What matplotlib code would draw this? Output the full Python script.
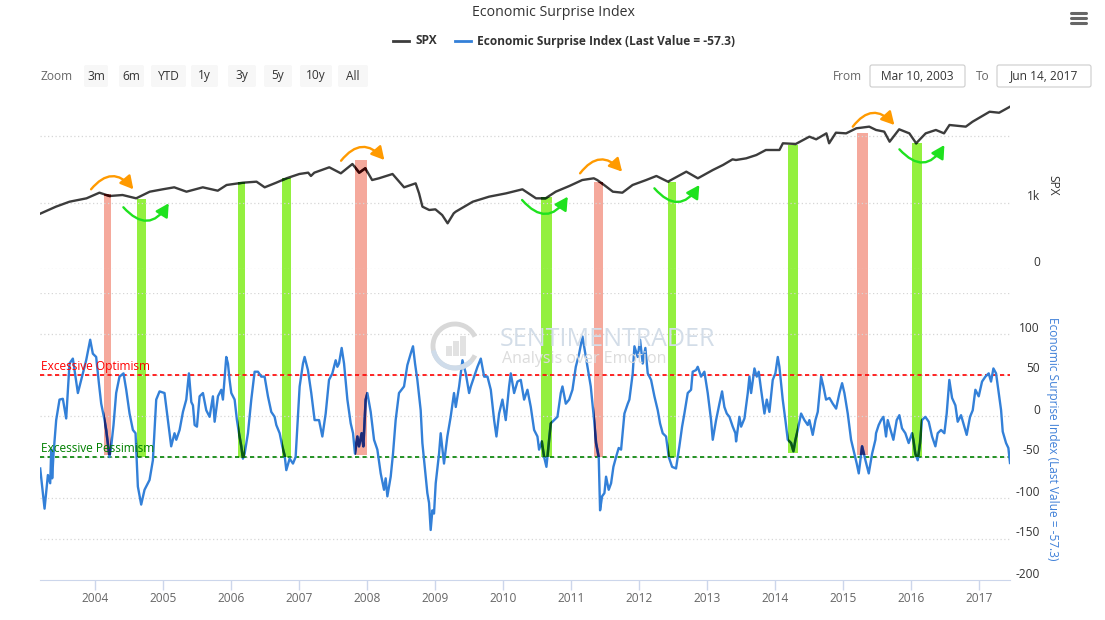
import numpy as np
import matplotlib.pyplot as plt
import matplotlib.transforms as mtransforms
from matplotlib.patches import Rectangle, FancyBboxPatch, Arc

plt.rcParams['font.family'] = ['Open Sans', 'DejaVu Sans']

# ---------------- data (decimal years) ----------------
spx_years = [2003.19, 2003.42, 2003.62, 2003.87, 2004.06, 2004.21, 2004.40, 2004.60, 2004.80, 2004.99,
             2005.16, 2005.34, 2005.58, 2005.80, 2005.93, 2006.17, 2006.37, 2006.49, 2006.66, 2006.81,
             2007.00, 2007.13, 2007.17, 2007.22, 2007.44, 2007.61, 2007.78, 2007.88, 2007.97, 2008.07,
             2008.17, 2008.37, 2008.54, 2008.71, 2008.76, 2008.81, 2008.91, 2009.00, 2009.10, 2009.18,
             2009.27, 2009.30, 2009.55, 2009.79, 2010.04, 2010.28, 2010.48, 2010.62, 2010.77, 2010.97,
             2011.16, 2011.33, 2011.38, 2011.45, 2011.61, 2011.75, 2011.90, 2012.10, 2012.25, 2012.42,
             2012.69, 2012.86, 2013.08, 2013.23, 2013.37, 2013.42, 2013.57, 2013.72, 2013.86, 2014.06,
             2014.11, 2014.30, 2014.50, 2014.60, 2014.75, 2014.79, 2014.89, 2015.04, 2015.19, 2015.38,
             2015.48, 2015.60, 2015.68, 2015.82, 2015.97, 2016.07, 2016.21, 2016.36, 2016.48, 2016.56,
             2016.80, 2016.90, 2017.15, 2017.29, 2017.45]
spx_values = [835, 940, 1015, 1066, 1151, 1101, 1116, 1066, 1166, 1202,
              1232, 1166, 1232, 1181, 1267, 1302, 1317, 1232, 1302, 1368,
              1433, 1453, 1403, 1453, 1534, 1443, 1584, 1453, 1519, 1342,
              1368, 1433, 1232, 1292, 1141, 940, 890, 900, 814, 689,
              840, 865, 1015, 1091, 1141, 1202, 1066, 1066, 1166, 1252,
              1342, 1368, 1342, 1292, 1166, 1151, 1267, 1342, 1403, 1317,
              1468, 1368, 1493, 1569, 1654, 1644, 1669, 1719, 1795, 1795,
              1896, 1886, 1996, 1956, 2046, 1896, 2056, 2046, 2122, 2147,
              2097, 2072, 1920, 2107, 2046, 1896, 2046, 2097, 2046, 2172,
              2147, 2222, 2372, 2357, 2448]

esi_years = [2003.189, 2003.253, 2003.302, 2003.336, 2003.351, 2003.365, 2003.385, 2003.424, 2003.473, 2003.522,
             2003.571, 2003.620, 2003.669, 2003.743, 2003.816, 2003.865, 2003.924, 2003.963, 2004.012, 2004.052,
             2004.086, 2004.135, 2004.159, 2004.208, 2004.233, 2004.267, 2004.306, 2004.355, 2004.414, 2004.454,
             2004.503, 2004.552, 2004.591, 2004.625, 2004.674, 2004.723, 2004.797, 2004.846, 2004.895, 2004.944,
             2005.017, 2005.091, 2005.115, 2005.164, 2005.190, 2005.239, 2005.288, 2005.337, 2005.376, 2005.411,
             2005.435, 2005.460, 2005.494, 2005.533, 2005.582, 2005.631, 2005.680, 2005.729, 2005.754, 2005.803,
             2005.852, 2005.876, 2005.925, 2005.950, 2005.974, 2005.999, 2006.048, 2006.082, 2006.112, 2006.146,
             2006.170, 2006.195, 2006.244, 2006.293, 2006.342, 2006.391, 2006.440, 2006.489, 2006.538, 2006.587,
             2006.636, 2006.661, 2006.710, 2006.749, 2006.783, 2006.808, 2006.857, 2006.906, 2006.945, 2006.965,
             2007.004, 2007.053, 2007.077, 2007.126, 2007.175, 2007.224, 2007.289, 2007.338, 2007.387, 2007.436,
             2007.485, 2007.534, 2007.559, 2007.583, 2007.622, 2007.657, 2007.706, 2007.755, 2007.789, 2007.818,
             2007.853, 2007.877, 2007.916, 2007.941, 2007.975, 2008.000, 2008.049, 2008.098, 2008.147, 2008.196,
             2008.245, 2008.269, 2008.294, 2008.343, 2008.377, 2008.416, 2008.465, 2008.539, 2008.588, 2008.637,
             2008.671, 2008.701, 2008.735, 2008.784, 2008.809, 2008.858, 2008.882, 2008.907, 2008.931, 2008.956,
             2008.980, 2009.005, 2009.054, 2009.078, 2009.127, 2009.176, 2009.225, 2009.274, 2009.300, 2009.349,
             2009.398, 2009.447, 2009.496, 2009.521, 2009.570, 2009.619, 2009.668, 2009.717, 2009.766, 2009.815,
             2009.864, 2009.898, 2009.937, 2009.986, 2010.035, 2010.084, 2010.109, 2010.158, 2010.207, 2010.256,
             2010.305, 2010.354, 2010.403, 2010.452, 2010.501, 2010.525, 2010.565, 2010.599, 2010.633, 2010.663,
             2010.697, 2010.746, 2010.795, 2010.844, 2010.869, 2010.918, 2010.967, 2011.016, 2011.065, 2011.114,
             2011.163, 2011.187, 2011.236, 2011.285, 2011.334, 2011.363, 2011.402, 2011.422, 2011.451, 2011.486,
             2011.510, 2011.549, 2011.584, 2011.618, 2011.657, 2011.696, 2011.731, 2011.780, 2011.829, 2011.853,
             2011.902, 2011.927, 2011.976, 2012.010, 2012.049, 2012.088, 2012.123, 2012.172, 2012.221, 2012.270,
             2012.304, 2012.343, 2012.392, 2012.432, 2012.481, 2012.539, 2012.588, 2012.628, 2012.662, 2012.711,
             2012.760, 2012.784, 2012.833, 2012.858, 2012.907, 2012.956, 2013.005, 2013.054, 2013.079, 2013.128,
             2013.177, 2013.216, 2013.250, 2013.285, 2013.324, 2013.373, 2013.412, 2013.422, 2013.471, 2013.496,
             2013.545, 2013.594, 2013.618, 2013.643, 2013.692, 2013.726, 2013.755, 2013.790, 2013.839, 2013.873,
             2013.912, 2013.961, 2014.000, 2014.035, 2014.059, 2014.108, 2014.147, 2014.182, 2014.231, 2014.265,
             2014.295, 2014.329, 2014.378, 2014.427, 2014.476, 2014.500, 2014.549, 2014.589, 2014.623, 2014.672,
             2014.706, 2014.745, 2014.795, 2014.844, 2014.893, 2014.942, 2014.981, 2015.015, 2015.064, 2015.113,
             2015.147, 2015.196, 2015.226, 2015.275, 2015.324, 2015.373, 2015.422, 2015.471, 2015.480, 2015.519,
             2015.554, 2015.588, 2015.627, 2015.652, 2015.686, 2015.735, 2015.784, 2015.823, 2015.862, 2015.911,
             2015.960, 2016.009, 2016.029, 2016.058, 2016.093, 2016.127, 2016.156, 2016.205, 2016.255, 2016.304,
             2016.353, 2016.387, 2016.436, 2016.485, 2016.519, 2016.558, 2016.598, 2016.647, 2016.681, 2016.730,
             2016.764, 2016.813, 2016.862, 2016.902, 2016.941, 2016.990, 2017.039, 2017.088, 2017.137, 2017.171,
             2017.206, 2017.245, 2017.284, 2017.319, 2017.343, 2017.392, 2017.426, 2017.450]
esi_values = [-64, -113, -72, -82, -41, -76, -46, -5, 20, 21,
              -3, 64, 70, 28, 52, 68, 93, 76, 72, 40,
              15, -5, -17, -50, -37, -11, 28, 48, 52, 32,
              3, -17, -21, -86, -108, -90, -78, -54, 20, 30,
              28, -21, -37, -21, -29, -17, 5, 20, 52, 17,
              13, -11, -13, 24, 28, 7, -1, 24, -7, 24,
              32, 20, 72, 64, 44, 28, 20, -5, -21, -37,
              -52, -46, -21, 20, 54, 54, 48, 48, 24, 5,
              -1, -11, -21, -37, -48, -66, -52, -58, -50, -21,
              36, 64, 72, 56, 28, -5, -5, -25, 3, 44,
              52, 68, 60, 64, 83, 64, 20, -9, -21, -46,
              -25, -37, -21, -37, 20, 28, 5, -29, -41, -70,
              -90, -76, -98, -74, -46, -5, 28, 36, 62, 76,
              85, 64, 44, 7, -33, -74, -94, -106, -139, -115,
              -119, -82, -46, -21, -58, -25, -1, 28, 11, 36,
              68, 52, 28, 36, 48, 60, 70, 48, 48, 32,
              -5, -25, 3, 20, -5, 36, 52, 28, 42, 44,
              20, 32, 11, -17, -25, -41, -31, -50, -62, -37,
              -9, -5, -1, 28, 36, 15, 20, 32, 60, 76,
              97, 85, 60, 36, -5, -33, -50, -115, -98, -94,
              -74, -90, -82, -62, -50, -39, -41, 3, 15, 20,
              52, 85, 72, 93, 64, 83, 52, 44, 24, 7,
              -9, -21, -25, -50, -62, -64, -37, -13, 3, 28,
              32, 54, 56, 60, 48, 54, 28, -5, -29, -5,
              15, 30, 11, 3, -1, -13, -21, -31, -1, -13,
              -3, 28, 48, 28, 58, 48, 54, 32, 3, 20,
              5, 44, 52, 72, 60, 20, -5, -29, -33, -43,
              -29, -17, 3, -5, -11, -5, -23, -5, 5, 48,
              36, 20, 22, 15, 9, 28, 40, 28, 3, -29,
              -41, -58, -70, -37, -54, -70, -46, -29, -21, -11,
              -5, -1, -25, -5, -15, -29, -5, 1, -15, -21,
              -33, -21, -29, -46, -54, -33, -5, -1, -7, -25,
              -37, -21, -17, -21, 3, 44, 22, 13, -7, 1,
              -9, -23, -1, 7, 32, 24, 42, 48, 52, 42,
              58, 52, 28, 7, -19, -33, -39, -57.3]

# signal bands: start, end, SPX level at the top, ESI level at the bottom
band_start = [2004.132, 2004.609, 2006.094, 2006.746, 2007.819, 2010.554, 2011.338, 2012.418, 2014.182, 2015.197, 2016.006]
band_end = [2004.231, 2004.746, 2006.206, 2006.882, 2007.991, 2010.716, 2011.471, 2012.540, 2014.329, 2015.359, 2016.153]
band_top = [1131, 1060, 1317, 1368, 1640, 1091, 1317, 1317, 1870, 2056, 1896]
band_bottom = [-47, -50, -51, -50, -47, -50, -50, -50, -45, -47, -50]
band_kind = ['sell', 'buy', 'buy', 'buy', 'sell', 'buy', 'sell', 'buy', 'buy', 'sell', 'buy']

# curved arrows on the SPX pane: (x0, y0) -> (x1, y1)
arrow_x0 = [2003.937, 2007.613, 2011.128, 2015.138, 2004.412, 2010.275, 2012.221, 2015.824]
arrow_y0 = [1202, 1633, 1443, 2147, 931, 1041, 1217, 1805]
arrow_x1 = [2004.559, 2008.250, 2011.746, 2015.750, 2005.079, 2010.947, 2012.882, 2016.485]
arrow_y1 = [1202, 1644, 1468, 2172, 991, 1091, 1267, 1870]
arrow_kind = ['top', 'top', 'top', 'top', 'bottom', 'bottom', 'bottom', 'bottom']

years = list(range(2004, 2018))
optimism_level = 50
pessimism_level = -50
x_start, x_end = 2003.186, 2017.45

# ---------------- figure ----------------
W, H = 1105, 620
fig = plt.figure(figsize=(W / 100, H / 100), dpi=100, facecolor='white')


def px_axes(left, top, right, bottom):
    return fig.add_axes([left / W, 1 - bottom / H, (right - left) / W, (bottom - top) / H])


def ftext(x, y, s, **kw):
    return fig.text(x / W, 1 - y / H, s, **kw)


def fbox(x0, y0, x1, y1, **kw):
    p = FancyBboxPatch((x0, H - y1), x1 - x0, y1 - y0, boxstyle='round,pad=0,rounding_size=2',
                       transform=mtransforms.IdentityTransform(), **kw)
    fig.add_artist(p)


ax_spx = px_axes(40, 100, 1010, 269)
ax_esi = px_axes(40, 293, 1010, 580)

SPX_C = '#3c3c3c'
ESI_C = '#3380d8'
GRID_C = '#d6d6d6'
RED_BAND = '#f5a99c'
GREEN_BAND = '#93f03f'

for ax in (ax_spx, ax_esi):
    ax.set_xlim(x_start, x_end)
    ax.patch.set_visible(False)
    for s in ax.spines.values():
        s.set_visible(False)
    ax.set_yticks([])

ax_spx.set_ylim(0, 2549)
ax_esi.set_ylim(-200, 150)
ax_spx.set_xticks([])

# grid lines and right-hand labels
for v in [0, 1000, 2000]:
    ax_spx.axhline(v, color=GRID_C, lw=0.9, ls=(0, (1, 2)), zorder=1)
for v, lab in [(1000, '1k'), (0, '0')]:
    ax_spx.annotate(lab, xy=(1, v), xycoords=('axes fraction', 'data'), xytext=(30, 6),
                    textcoords='offset pixels', ha='right', va='center', fontsize=8.6, color='#333333')
for v in [150, 100, 50, 0, -50, -100, -150]:
    ax_esi.axhline(v, color=GRID_C, lw=0.9, ls=(0, (1, 2)), zorder=1)
for v in [100, 50, 0, -50, -100, -150, -200]:
    ax_esi.annotate(str(v), xy=(1, v), xycoords=('axes fraction', 'data'), xytext=(30, 6),
                    textcoords='offset pixels', ha='right', va='center', fontsize=8.6, color='#333333')

ax_esi.spines['bottom'].set_visible(True)
ax_esi.spines['bottom'].set_color('#ccd6eb')
ax_esi.set_xticks(years)
ax_esi.set_xticklabels([str(y) for y in years])
ax_esi.tick_params(axis='x', length=7.5, width=1, color='#ccd6eb', pad=1.5, labelsize=8.6, labelcolor='#666666')

# threshold lines
ax_esi.axhline(optimism_level, color='#ff0000', lw=1.2, ls=(0, (2.5, 2)), zorder=2)
ax_esi.axhline(pessimism_level, color='#008000', lw=1.2, ls=(0, (2.5, 2)), zorder=2)
ax_esi.text(x_start + 0.01, optimism_level + 2, 'Excessive Optimism', color='#ff0000', fontsize=8.6,
            va='bottom', ha='left', zorder=5)
ax_esi.text(x_start + 0.01, pessimism_level + 2, 'Excessive Pessimism', color='#008000', fontsize=8.6,
            va='bottom', ha='left', zorder=5)

# main series
ax_spx.plot(spx_years, spx_values, color=SPX_C, lw=1.7, zorder=4)
ax_esi.plot(esi_years, esi_values, color=ESI_C, lw=1.7, zorder=4)

# bands spanning both panes, with darker line segments inside them
for x0, x1, top, bot, kind in zip(band_start, band_end, band_top, band_bottom, band_kind):
    col = RED_BAND if kind == 'sell' else GREEN_BAND
    p0 = ax_esi.transData.transform((x0, bot))
    p1 = ax_esi.transData.transform((x1, bot))
    pt = ax_spx.transData.transform((x0, top))
    rect = Rectangle((p0[0], p0[1]), p1[0] - p0[0], pt[1] - p0[1], facecolor=col, edgecolor='none',
                     transform=mtransforms.IdentityTransform(), zorder=-1)
    fig.add_artist(rect)
    spx_dark = '#3a0505' if kind == 'sell' else '#0d3d0d'
    esi_dark = '#1e2b78' if kind == 'sell' else '#0a5a12'
    l1, = ax_spx.plot(spx_years, spx_values, color=spx_dark, lw=1.8, zorder=4.5)
    l1.set_clip_path(Rectangle((x0, 0), x1 - x0, top, transform=ax_spx.transData))
    l2, = ax_esi.plot(esi_years, esi_values, color=esi_dark, lw=1.8, zorder=4.5)
    l2.set_clip_path(Rectangle((x0, bot), x1 - x0, 150 - bot, transform=ax_esi.transData))

# curved arrows
for x0, y0, x1, y1, kind in zip(arrow_x0, arrow_y0, arrow_x1, arrow_y1, arrow_kind):
    col = '#ff9a00' if kind == 'top' else '#1fe21f'
    rad = -0.6 if kind == 'top' else 0.66
    ax_spx.annotate('', xy=(x1, y1), xytext=(x0, y0),
                    arrowprops=dict(arrowstyle='-|>,head_length=0.55,head_width=0.3',
                                    connectionstyle='arc3,rad=%s' % rad, color=col, lw=1.7,
                                    shrinkA=0, shrinkB=0, mutation_scale=14), zorder=6)

# watermark
logo = Arc((455 / W, 1 - 346 / H), 44 / W, 44 / H, theta1=40, theta2=320, color='#d8d8d8', lw=3.5,
           transform=fig.transFigure, zorder=3)
fig.add_artist(logo)
logo2 = Arc((455 / W, 1 - 346 / H), 44 / W, 44 / H, theta1=200, theta2=300, color='#cfdcea', lw=3.5,
            transform=fig.transFigure, zorder=3)
fig.add_artist(logo2)
for bx, bh in zip([446, 453, 460], [10, 15, 20]):
    fig.add_artist(Rectangle((bx / W, 1 - 356 / H), 6 / W, bh / H, facecolor='#e2e2e2', edgecolor='none',
                             transform=fig.transFigure, zorder=3))
ftext(500, 339, 'SENTIMENTRADER', fontsize=18, color='#d3dde8', va='center', ha='left', zorder=3)
ftext(502, 359, 'Analysis over Emotion', fontsize=11.5, color='#dcdcdc', va='center', ha='left', zorder=3)

# axis titles
ftext(1053, 185, 'SPX', rotation=-90, fontsize=8.6, color='#333333', ha='center', va='center')
ftext(1053, 439, 'Economic Surprise Index (Last Value = -57.3)', rotation=-90, fontsize=8.6,
      color='#3f80d8', ha='center', va='center')

# title and legend
ftext(553, 13, 'Economic Surprise Index', fontsize=10.2, color='#333333', ha='center', va='center')
fig.add_artist(plt.Line2D([393 / W, 409 / W], [1 - 41 / H] * 2, color=SPX_C, lw=2, transform=fig.transFigure))
ftext(416, 41, 'SPX', fontsize=8.6, fontweight='bold', color='#333333', ha='left', va='center')
fig.add_artist(plt.Line2D([455 / W, 471 / W], [1 - 41 / H] * 2, color=ESI_C, lw=2, transform=fig.transFigure))
ftext(477, 41, 'Economic Surprise Index (Last Value = -57.3)', fontsize=8.6, fontweight='bold',
      color='#333333', ha='left', va='center')

# hamburger menu
for yy in [13, 18, 23]:
    fig.add_artist(plt.Line2D([1071 / W, 1086 / W], [1 - yy / H] * 2, color='#666666', lw=2.2,
                              solid_capstyle='round', transform=fig.transFigure))

# range selector
ftext(40, 76, 'Zoom', fontsize=8.6, color='#666666', ha='left', va='center')
buttons = ['3m', '6m', 'YTD', '1y', '3y', '5y', '10y', 'All']
btn_left = [84, 119, 151, 191, 228, 264, 300, 338]
btn_right = [108, 144, 186, 218, 256, 292, 332, 368]
for lab, bl, br in zip(buttons, btn_left, btn_right):
    fbox(bl, 65, br, 87, facecolor='#f7f7f7', edgecolor='none')
    ftext((bl + br) / 2, 76, lab, fontsize=8.6, color='#333333', ha='center', va='center')

ftext(833, 76, 'From', fontsize=8.6, color='#666666', ha='left', va='center')
fbox(870, 65, 965, 87, facecolor='white', edgecolor='#cccccc', lw=0.8)
ftext(917, 76, 'Mar 10, 2003', fontsize=8.6, color='#333333', ha='center', va='center')
ftext(976, 76, 'To', fontsize=8.6, color='#666666', ha='left', va='center')
fbox(997, 65, 1091, 87, facecolor='white', edgecolor='#cccccc', lw=0.8)
ftext(1044, 76, 'Jun 14, 2017', fontsize=8.6, color='#333333', ha='center', va='center')

fig.savefig('out.png', dpi=100, facecolor='white')
